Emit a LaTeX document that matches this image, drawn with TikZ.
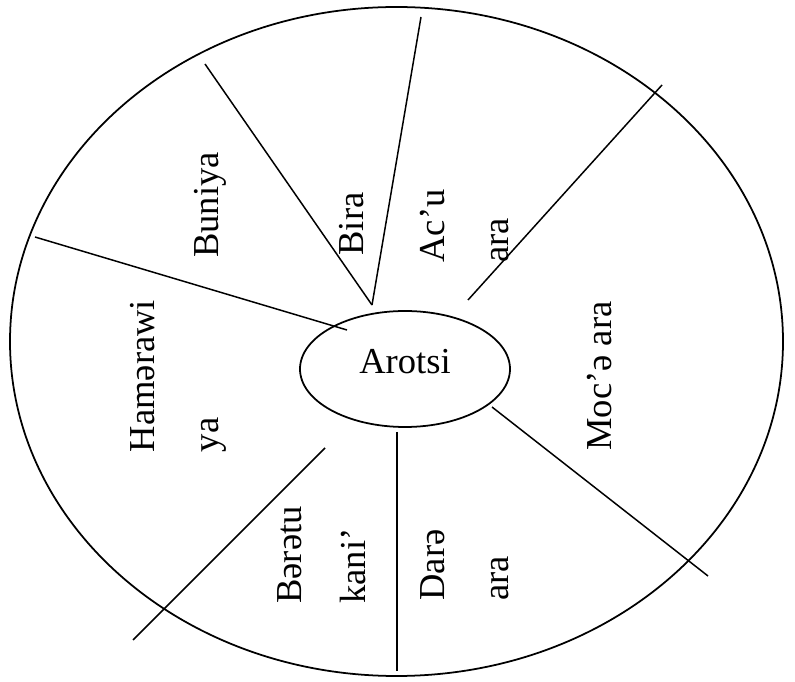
\documentclass[tikz,border=0pt]{standalone}
\usepackage{fontspec}
\setmainfont{Liberation Serif}
\usetikzlibrary{shapes.geometric}

\begin{document}
\begin{tikzpicture}[
  divider/.style={draw=black, line width=.85pt},
  rim/.style    ={draw=black, line width=1pt},
  hub/.style    ={ellipse, draw=black, line width=1pt, inner sep=0pt,
                  minimum width=4.2cm, minimum height=2.32cm,
                  font=\fontsize{20.8pt}{25pt}\selectfont,
                  text height=.49cm, text depth=.32cm},
  sector/.style ={rotate=90, align=left, inner sep=0pt,
                  font=\fontsize{20.8pt}{36.4pt}\selectfont},
]
\useasboundingbox (0,0) rectangle (15.9,13.62);

% ============ OUTER RIM + HUB ============
\draw[rim] (7.93,6.79) ellipse [x radius=7.73cm, y radius=6.69cm];
\node[hub] (arotsi) at (8.10,6.24) {Arotsi};

% ============ DIVIDER END POINTS ============
\coordinate (d1a) at (0.70,8.88);  \coordinate (d1b) at (6.94,7.02);
\coordinate (d2a) at (4.10,12.34); \coordinate (meet) at (7.44,7.52);
\coordinate (d3a) at (8.42,13.28);
\coordinate (d4a) at (13.24,11.92); \coordinate (d4b) at (9.36,7.62);
\coordinate (d5a) at (9.84,5.48);  \coordinate (d5b) at (14.16,2.10);
\coordinate (d6a) at (7.94,4.98);  \coordinate (d6b) at (7.94,0.20);
\coordinate (d7a) at (6.50,4.66);  \coordinate (d7b) at (2.66,0.82);

\draw[divider] (d1a) -- (d1b);
\draw[divider] (d2a) -- (meet);
\draw[divider] (d3a) -- (meet);
\draw[divider] (d4a) -- (d4b);
\draw[divider] (d5a) -- (d5b);
\draw[divider] (d6a) -- (d6b);
\draw[divider] (d7a) -- (d7b);

% ============ SECTOR LABELS ============
\node[sector] (buniya) at (4.20,9.52)  {Buniya};
\node[sector] (bira)   at (7.04,9.14)  {Bira};
\node[sector] (acu)    at (9.30,9.10)  {Ac’u\\ara};
\node[sector] (moce)   at (12.00,6.10) {Moc’ə ara};
\node[sector] (dare)   at (9.30,2.32)  {Darə\\ara};
\node[sector] (beretu) at (6.44,2.52)  {Bərətu\\kani’};
\node[sector] (hamer)  at (3.56,6.10)  {Hamərawi\\ya};

\end{tikzpicture}
\end{document}
